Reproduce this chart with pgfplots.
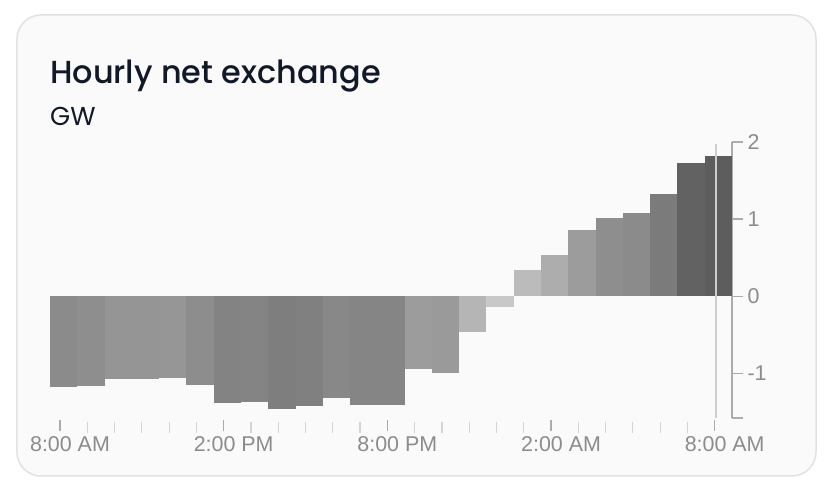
\documentclass[border=0pt]{standalone}
\usepackage{pgfplots}
\pgfplotsset{compat=1.18}
\usepackage{fontspec}
\setmainfont{Liberation Sans}
\newfontfamily\titlefont{Poppins}[UprightFont=* Medium]
\newfontfamily\subfont{Poppins}

\definecolor{cardbg}{HTML}{FAFAFA}
\definecolor{cardline}{HTML}{E2E2E2}
\definecolor{titlec}{HTML}{111827}
\definecolor{tickc}{HTML}{8C8C8C}
\definecolor{axisc}{HTML}{ABABAB}
\definecolor{minorc}{HTML}{D4D4D4}
\definecolor{nowc}{HTML}{CDCDCD}

\begin{document}
\begin{tikzpicture}[x=1bp,y=1bp]
% page = 830 x 496, origin at bottom-left of plot area (px 50, 418)
\path[use as bounding box, fill=white] (-50,-78) rectangle (780,418);
\draw[cardline, fill=cardbg, line width=1.5bp, rounded corners=24bp] (-33,-58) rectangle (766,403);

\node[anchor=base west, inner sep=0pt, text=titlec, font=\titlefont\fontsize{32}{36}\selectfont] at (0,334) {Hourly net exchange};
\node[anchor=base west, inner sep=0pt, text=titlec, font=\subfont\fontsize{26}{30}\selectfont] at (0,292) {GW};

\begin{axis}[
    at={(0,0)}, anchor=south west,
    scale only axis,
    width=682bp, height=276bp,
    xmin=-0.5, xmax=24.5,
    ymin=-1.58, ymax=2,
    ybar, bar width=1, bar shift=0pt,
    axis x line*=bottom,
    x axis line style={draw=none},
    axis y line*=right,
    y axis line style={axisc, line width=1.2bp},
    xtick={-0.134,5.866,11.866,17.866,23.866},
    xticklabels={8:00 AM,2:00 PM,8:00 PM,2:00 AM,8:00 AM},
    minor xtick={0.866,1.866,2.866,3.866,4.866,6.866,7.866,8.866,9.866,10.866,12.866,13.866,14.866,15.866,16.866,18.866,19.866,20.866,21.866,22.866,24.866},
    ytick={-1.58,-1,0,1,2},
    yticklabels={,-1,0,1,2},
    tick align=outside,
    major tick length=11bp,
    minor tick length=11bp,
    x tick style={axisc, line width=1.2bp, yshift=-2bp},
    minor x tick style={minorc, line width=1.2bp, yshift=-2bp},
    y tick style={axisc, line width=1.2bp},
    xticklabel style={text=tickc, font=\fontsize{21.5}{24}\selectfont, yshift=-4bp, xshift=10bp},
    yticklabel style={text=tickc, font=\fontsize{21.5}{24}\selectfont, anchor=west, xshift=1bp},
    every axis plot/.append style={draw=none},
    clip=false,
]
\addplot[fill=black!45.5] coordinates {(0,-1.18)};
\addplot[fill=black!44.5] coordinates {(1,-1.165)};
\addplot[fill=black!41.6] coordinates {(2,-1.07)};
\addplot[fill=black!41.6] coordinates {(3,-1.07)};
\addplot[fill=black!41] coordinates {(4,-1.06)};
\addplot[fill=black!44.7] coordinates {(5,-1.15)};
\addplot[fill=black!48.6] coordinates {(6,-1.39)};
\addplot[fill=black!48.2] coordinates {(7,-1.37)};
\addplot[fill=black!50.6] coordinates {(8,-1.46)};
\addplot[fill=black!49.8] coordinates {(9,-1.43)};
\addplot[fill=black!46.7] coordinates {(10,-1.32)};
\addplot[fill=black!47.8] coordinates {(11,-1.41)};
\addplot[fill=black!47.8] coordinates {(12,-1.41)};
\addplot[fill=black!38.8] coordinates {(13,-0.94)};
\addplot[fill=black!39.6] coordinates {(14,-1.00)};
\addplot[fill=black!29] coordinates {(15,-0.47)};
\addplot[fill=black!21.6] coordinates {(16,-0.14)};
\addplot[fill=black!26.7] coordinates {(17,0.34)};
\addplot[fill=black!32.2] coordinates {(18,0.53)};
\addplot[fill=black!38.8] coordinates {(19,0.86)};
\addplot[fill=black!44.3] coordinates {(20,1.02)};
\addplot[fill=black!45.5] coordinates {(21,1.08)};
\addplot[fill=black!51.8] coordinates {(22,1.33)};
\addplot[fill=black!61.6] coordinates {(23,1.73)};
\addplot[fill=black!63.5] coordinates {(24,1.82)};
% now marker
\addplot[sharp plot, nowc, line width=2bp, draw=nowc] coordinates {(23.93,-1.58) (23.93,1.97)};
\end{axis}
\end{tikzpicture}
\end{document}
